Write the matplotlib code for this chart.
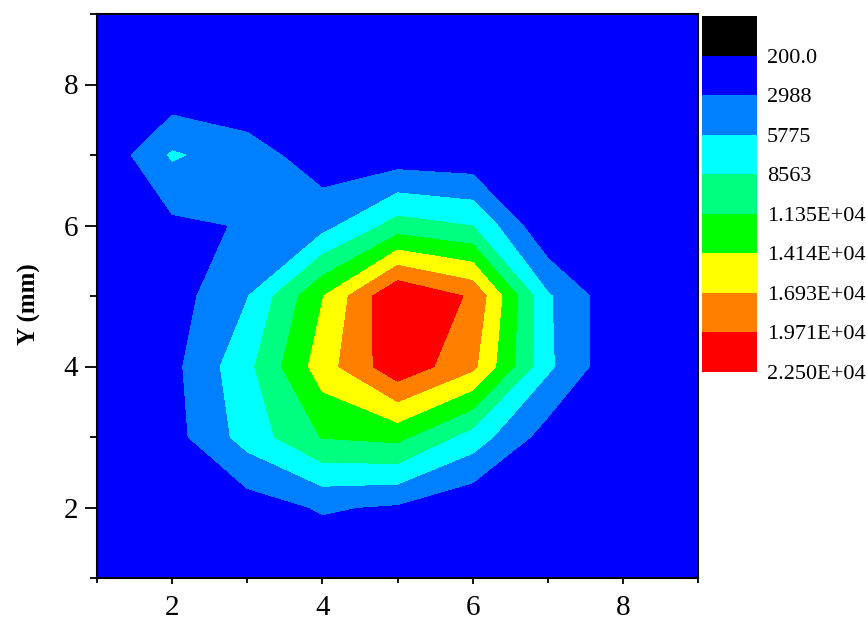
import numpy as np
import matplotlib
matplotlib.use("Agg")
import matplotlib.pyplot as plt
from matplotlib.ticker import MultipleLocator

plt.rcParams['font.family'] = ['Liberation Serif', 'DejaVu Serif']

# grid coordinates (mm)
x_mm = [1, 2, 3, 4, 5, 6, 7, 8, 9]
y_mm = [1, 2, 3, 4, 5, 6, 7, 8, 9]

# measured values, one list per row (y = 1 ... 9), columns x = 1 ... 9
row_y1 = [230, 250, 300, 230, 600, 400, 250, 230, 230]
row_y2 = [250, 400, 1543, 3300, 2600, 664, 300, 250, 230]
row_y3 = [300, 1930, 6900, 11500, 12150, 7300, 1700, 300, 230]
row_y4 = [400, 2200, 7780, 15600, 21700, 17600, 6300, 320, 230]
row_y5 = [350, 1676, 5650, 14000, 22500, 19300, 6100, 543, 250]
row_y6 = [300, 2400, 3184, 4750, 9700, 8500, 300, 230, 230]
row_y7 = [400, 6100, 4300, 1425, 1224, 900, 250, 230, 230]
row_y8 = [250, 605, 230, 300, 300, 250, 230, 230, 230]
row_y9 = [230, 230, 230, 230, 230, 230, 230, 230, 230]

# contour levels (lowest is the black "below range" band)
levels = [-2587.5, 200.0, 2987.5, 5775.0, 8562.5, 11350.0, 14137.5, 16925.0, 19712.5, 22500.0]
level_labels = ['200.0', '2988', '5775', '8563', '1.135E+04', '1.414E+04',
                '1.693E+04', '1.971E+04', '2.250E+04']
band_colors = ['#000000', '#0000FF', '#0080FF', '#00FFFF', '#00FF80',
               '#00FF00', '#FFFF00', '#FF8000', '#FF0000']

Z = np.array([row_y1, row_y2, row_y3, row_y4, row_y5, row_y6, row_y7, row_y8, row_y9], dtype=float)
X, Y = np.meshgrid(x_mm, y_mm)

fig = plt.figure(figsize=(8.66, 6.28), dpi=100)
ax = fig.add_axes([97/866, 1-578/628, 601/866, 564/628])
cs = ax.contourf(X, Y, Z, levels=levels, colors=band_colors, antialiased=False)

ax.set_xlim(1, 9)
ax.set_ylim(1, 9)
ax.xaxis.set_major_locator(MultipleLocator(2))
ax.yaxis.set_major_locator(MultipleLocator(2))
ax.xaxis.set_minor_locator(MultipleLocator(1))
ax.yaxis.set_minor_locator(MultipleLocator(1))
for s in ax.spines.values():
    s.set_linewidth(1.5)
ax.tick_params(axis='both', which='both', direction='out', width=1.3, labelsize=21, top=False, right=False)
ax.tick_params(axis='x', which='major', length=4.5, pad=8)
ax.tick_params(axis='x', which='minor', length=3.5)
ax.tick_params(axis='y', which='major', length=8.5, pad=5)
ax.tick_params(axis='y', which='minor', length=5)
ax.set_ylabel('Y (mm)', fontsize=18, fontweight='bold')
ax.yaxis.set_label_coords(-0.093, 0.485)

cax = fig.add_axes([702/866, 1-372/628, 55/866, 356/628])
cbar = fig.colorbar(cs, cax=cax, ticks=levels[1:])
cbar.ax.invert_yaxis()
cbar.set_ticklabels(level_labels)
cbar.outline.set_visible(False)
cax.tick_params(length=0, pad=7, labelsize=16)

fig.savefig('out.png', dpi=100)
